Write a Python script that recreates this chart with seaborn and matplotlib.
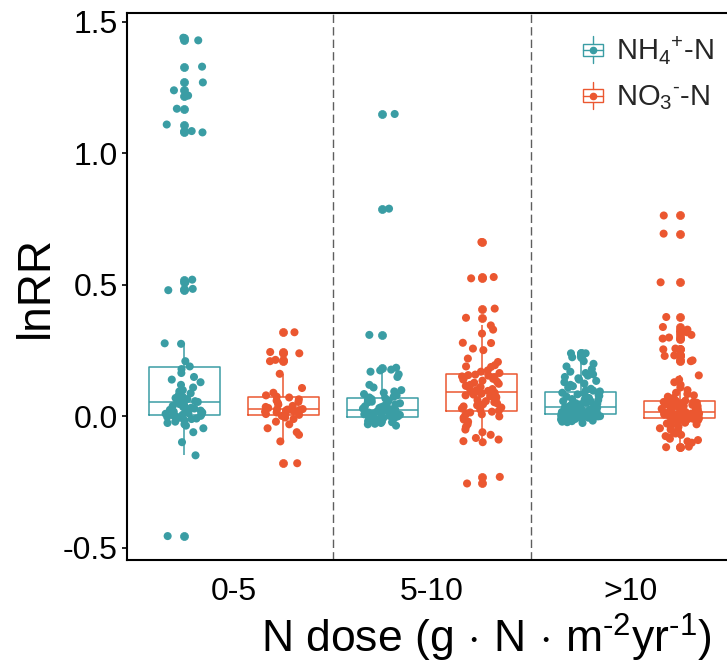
import numpy as np
import pandas as pd
import matplotlib
matplotlib.use("Agg")
import matplotlib.pyplot as plt
import matplotlib.transforms as mtransforms
from matplotlib.legend_handler import HandlerBase
from matplotlib.patches import Rectangle
from matplotlib.lines import Line2D
import seaborn as sns

# ---------------- data ----------------
dose_levels = ["0-5", "5-10", ">10"]
form_keys = ["NH4", "NO3"]
legend_labels = [r"NH$_4$$^{+}$-N", r"NO$_3$$^{\text{-}}$-N"]

nh4_0_5 = [-0.455, -0.148, -0.098,
           -0.06, -0.045, -0.035, -0.03, -0.025, -0.02, -0.015, -0.01, -0.008, -0.005, -0.002, 0.0, 0.002, 0.004, 0.006,
           0.008, 0.01, 0.012, 0.015, 0.018, 0.02, 0.022, 0.025, 0.028, 0.03, 0.033, 0.036, 0.04, 0.043, 0.047, 0.05, 0.053,
           0.055, 0.058, 0.062, 0.066, 0.07, 0.075, 0.08, 0.088, 0.095, 0.10, 0.11, 0.12, 0.13, 0.14, 0.15, 0.165, 0.18,
           0.19, 0.21, 0.276, 0.278, 0.48, 0.485, 0.51, 0.52, 1.08, 1.085, 1.11, 1.17, 1.22, 1.24, 1.27, 1.33, 1.43, 1.44]

no3_0_5 = [-0.178, -0.095, -0.07, -0.06, -0.045, -0.03, -0.02, -0.01, -0.004, 0.002,
           0.006, 0.009, 0.012, 0.015, 0.018, 0.02, 0.022, 0.024, 0.026, 0.027,
           0.028, 0.032, 0.036, 0.04, 0.045, 0.05, 0.055, 0.06, 0.065, 0.072,
           0.075, 0.08, 0.09, 0.108, 0.162, 0.21, 0.215, 0.24, 0.245, 0.32]

nh4_5_10 = [-0.035, -0.03, -0.028, -0.025, -0.022, -0.02, -0.018, -0.016, -0.014, -0.012, -0.011, -0.01,
            -0.009, -0.008, -0.007, -0.006, -0.005, -0.003,
            0.0, 0.002, 0.004, 0.006, 0.008, 0.01, 0.011, 0.012, 0.013, 0.014, 0.015, 0.016, 0.017, 0.018,
            0.02, 0.021, 0.022,
            0.024, 0.026, 0.028, 0.03, 0.032, 0.035, 0.038, 0.04, 0.043, 0.046, 0.05, 0.053, 0.056, 0.06,
            0.063, 0.066, 0.068,
            0.072, 0.075, 0.08, 0.085, 0.09, 0.095, 0.10, 0.11, 0.12, 0.15, 0.16, 0.17, 0.175, 0.178,
            0.185, 0.31, 0.79, 1.15]

no3_5_10 = [-0.255, -0.23, -0.098, -0.094, -0.088, -0.082, -0.07, -0.06, -0.05, -0.04, -0.03, -0.02,
            -0.012, -0.005, 0.0, 0.005, 0.008, 0.012, 0.015, 0.018,
            0.022, 0.026, 0.03, 0.034, 0.038, 0.042, 0.046, 0.05, 0.054, 0.058, 0.062, 0.066, 0.07,
            0.074, 0.077, 0.08, 0.083, 0.086, 0.088, 0.09,
            0.094, 0.097, 0.10, 0.104, 0.108, 0.112, 0.116, 0.12, 0.124, 0.128, 0.132, 0.136, 0.14,
            0.143, 0.146, 0.149, 0.152, 0.155, 0.157, 0.159,
            0.165, 0.17, 0.175, 0.188, 0.19, 0.195, 0.207, 0.22, 0.252, 0.258, 0.279, 0.28, 0.315,
            0.33, 0.346, 0.375, 0.41, 0.525, 0.53, 0.663]

nh4_gt10 = [-0.025, -0.022, -0.02, -0.018, -0.016, -0.014, -0.012, -0.01, -0.009, -0.008, -0.007, -0.006,
            -0.005, -0.004, -0.003, -0.002, -0.001, 0.0, 0.001, 0.002, 0.003, 0.004, 0.005, 0.006, 0.007,
            0.009, 0.01, 0.011, 0.012, 0.013, 0.014, 0.015, 0.016, 0.017, 0.018, 0.019, 0.02, 0.021,
            0.022, 0.023, 0.024, 0.025, 0.026, 0.027, 0.028, 0.029, 0.030, 0.031, 0.032, 0.034,
            0.036, 0.038, 0.04, 0.042, 0.044, 0.046, 0.048, 0.05, 0.052, 0.054, 0.056, 0.058, 0.06,
            0.062, 0.064, 0.066, 0.068, 0.07, 0.072, 0.075, 0.078, 0.081, 0.084, 0.087, 0.09,
            0.095, 0.098, 0.10, 0.105, 0.11, 0.115, 0.12, 0.125, 0.13, 0.135, 0.14, 0.145, 0.15,
            0.155, 0.16, 0.165, 0.17, 0.18, 0.19, 0.20, 0.21, 0.225, 0.235, 0.24, 0.24]

no3_gt10 = [-0.117, -0.115, -0.1, -0.095, -0.09, -0.085, -0.08, -0.075, -0.07, -0.065, -0.06, -0.055,
            -0.05, -0.045, -0.04, -0.036, -0.033, -0.03, -0.027, -0.024, -0.021, -0.018, -0.016, -0.014,
            -0.012, -0.01, -0.009, -0.008, -0.007, -0.006,
            -0.004, -0.003, -0.002, -0.001, 0.0, 0.0, 0.001, 0.002, 0.002, 0.003, 0.004, 0.004, 0.005,
            0.006, 0.006, 0.007, 0.008, 0.008, 0.009, 0.01, 0.01, 0.011, 0.011, 0.012, 0.012, 0.013,
            0.013, 0.014, 0.014, 0.015,
            0.017, 0.019, 0.021, 0.023, 0.025, 0.027, 0.029, 0.031, 0.033, 0.035, 0.037, 0.039, 0.04,
            0.041, 0.042, 0.043, 0.044, 0.045, 0.046, 0.047, 0.048, 0.049, 0.05, 0.051, 0.052, 0.054,
            0.055, 0.057, 0.058, 0.06,
            0.062, 0.065, 0.07, 0.075, 0.08, 0.085, 0.09, 0.1, 0.11, 0.12, 0.13, 0.14, 0.156,
            0.21, 0.213, 0.23, 0.232, 0.232, 0.255, 0.258, 0.296, 0.30, 0.31, 0.32, 0.33, 0.34,
            0.378, 0.51, 0.695, 0.764]

groups = [("0-5", "NH4", nh4_0_5), ("0-5", "NO3", no3_0_5),
          ("5-10", "NH4", nh4_5_10), ("5-10", "NO3", no3_5_10),
          (">10", "NH4", nh4_gt10), (">10", "NO3", no3_gt10)]
df = pd.concat([pd.DataFrame({"dose": d, "form": f, "lnRR": v}) for d, f, v in groups],
               ignore_index=True)

palette = {"NH4": "#3A9DA4", "NO3": "#EB5730"}

# ---------------- style ----------------
sns.set_theme(style="white")
plt.rcParams["font.family"] = ["Liberation Sans", "DejaVu Sans"]
plt.rcParams["mathtext.fontset"] = "custom"
plt.rcParams["mathtext.rm"] = "Liberation Sans"
plt.rcParams["mathtext.it"] = "Liberation Sans:italic"
plt.rcParams["mathtext.bf"] = "Liberation Sans:bold"
plt.rcParams["axes.unicode_minus"] = False

fig = plt.figure(figsize=(7.27, 6.66), dpi=100)
fig.patch.set_facecolor("white")
ax = fig.add_axes([127 / 727, 1 - 560 / 666, 610 / 727, 547 / 666])

sns.boxplot(data=df, x="dose", y="lnRR", hue="form", order=dose_levels, hue_order=form_keys,
            palette=palette, fill=False, width=1.0, gap=0.29, linewidth=1.1, showcaps=False,
            flierprops=dict(marker="o", markersize=5.8, markeredgewidth=0.5),
            legend=False, ax=ax)
for ln in ax.lines:
    if ln.get_marker() == "o":
        ln.set_markerfacecolor(ln.get_markeredgecolor())

np.random.seed(7)
for key, dx in zip(form_keys, (-0.05, 0.05)):
    n0 = len(ax.collections)
    sns.stripplot(data=df[df["form"] == key], x="dose", y="lnRR", hue="form",
                  order=dose_levels, hue_order=form_keys, palette=palette,
                  dodge=True, jitter=0.2, size=5.8, linewidth=0, legend=False, ax=ax)
    shift = mtransforms.Affine2D().translate(dx, 0) + ax.transData
    for coll in ax.collections[n0:]:
        coll.set_offset_transform(shift)
        coll.set_zorder(3)

for xv in (0.5, 1.5):
    ax.axvline(xv, color="#5e5e5e", lw=1.0, ls=(0, (6, 3)), zorder=0)

ax.set_xlim(-0.54, 2.54)
ax.set_ylim(-0.546, 1.534)
ax.set_yticks([-0.5, 0.0, 0.5, 1.0, 1.5])
ax.set_yticklabels(["-0.5", "0.0", "0.5", "1.0", "1.5"])

for side in ("left", "top", "bottom"):
    ax.spines[side].set_color("black")
    ax.spines[side].set_linewidth(1.5)
ax.spines["right"].set_visible(False)

ax.tick_params(axis="y", length=3.6, width=1.2, pad=3, labelsize=23, colors="black", left=True)
ax.tick_params(axis="x", length=0, pad=12, labelsize=23, colors="black")

ax.set_ylabel("lnRR", fontsize=33, labelpad=4, color="black")
ax.set_xlabel(r"N dose (g$\,\cdot\,$N$\,\cdot\,$m$^{\text{-}2}$yr$^{\text{-}1}$)", fontsize=32,
              color="black")
ax.xaxis.set_label_coords(0.59, -0.094)


class BoxKey(HandlerBase):
    def create_artists(self, legend, orig_handle, xdescent, ydescent, width, height, fontsize, trans):
        c = orig_handle.get_color()
        cx = -xdescent + width / 2
        cy = -ydescent + height / 2
        bw, bh, wh = 14.4, 9.0, 14.4
        rect = Rectangle((cx - bw / 2, cy - bh / 2), bw, bh, fill=False, edgecolor=c, lw=1.0,
                         transform=trans)
        med = Line2D([cx - bw / 2, cx + bw / 2], [cy, cy], color=c, lw=1.0, transform=trans)
        wu = Line2D([cx, cx], [cy + bh / 2, cy + wh / 2 + 2.5], color=c, lw=1.0, transform=trans)
        wd = Line2D([cx, cx], [cy - bh / 2, cy - wh / 2 - 2.5], color=c, lw=1.0, transform=trans)
        dot = Line2D([cx], [cy], marker="o", markersize=4.5, color=c, lw=0, transform=trans)
        return [rect, med, wu, wd, dot]


handles = [Line2D([], [], color=palette[k]) for k in form_keys]
ax.legend(handles, legend_labels, handler_map={Line2D: BoxKey()}, loc="upper left",
          bbox_to_anchor=(578 / 727, 1 - 34 / 666), bbox_transform=fig.transFigure,
          frameon=False, fontsize=21, handlelength=1.0, handleheight=1.0, handletextpad=0.3,
          labelspacing=0.55, borderpad=0, borderaxespad=0)

fig.savefig("out.png", dpi=100)
